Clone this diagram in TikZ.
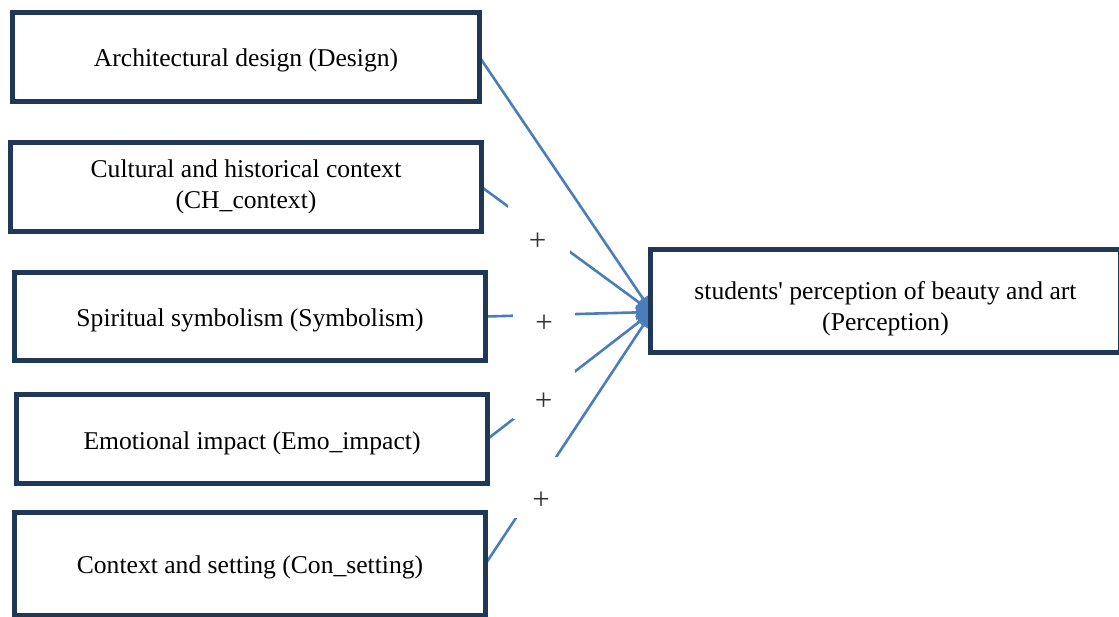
\documentclass[tikz,border=0pt]{standalone}
\usepackage{fontspec}
\setmainfont{Liberation Serif}
\usetikzlibrary{arrows.meta,calc,backgrounds}
\definecolor{boxline}{HTML}{1F3855}
\definecolor{connblue}{HTML}{4A7EBB}
\newcommand{\shiftdown}[2]{\raisebox{-#1}[\height][\depth]{#2}}
\tikzset{
  box/.style={draw=boxline, line width=5pt, fill=white, rectangle, outer sep=0pt,
    inner sep=0pt, align=center, font=\fontsize{25.6}{31}\selectfont},
  conn/.style={draw=connblue, line width=2.6pt, -{Triangle[length=16pt,width=14pt]}},
  gapbox/.style={fill=white, rectangle, minimum width=62pt, minimum height=61pt, inner sep=0pt},
  plus/.style={font=\fontsize{31}{31}\selectfont, inner sep=0pt, text=black!80}
}
\begin{document}
\begin{tikzpicture}[x=1pt,y=-1pt]
\useasboundingbox (0,0) rectangle (1119,617);
\node[box, minimum width=467pt, minimum height=89pt] (design) at (246,57) {\shiftdown{3pt}{Architectural design (Design)}};
\node[box, minimum width=471pt, minimum height=89pt] (ch) at (246,187) {\shiftdown{0pt}{\begin{tabular}{@{}c@{}}Cultural and historical context\\(CH\_context)\end{tabular}}};
\node[box, minimum width=471pt, minimum height=88pt] (sym) at (250,316.5) {\shiftdown{4pt}{Spiritual symbolism (Symbolism)}};
\node[box, minimum width=471pt, minimum height=89pt] (emo) at (252,439) {\shiftdown{4pt}{Emotional impact (Emo\_impact)}};
\node[box, minimum width=471pt, minimum height=103pt] (con) at (250,564) {\shiftdown{3pt}{Context and setting (Con\_setting)}};
\node[box, minimum width=470pt, minimum height=103pt] (perc) at (885.5,301) {\shiftdown{8pt}{\begin{tabular}{@{}c@{}}students\textquotesingle{} perception of beauty and art\\(Perception)\end{tabular}}};
\coordinate (tip) at ($(perc.west)+(1.5,11)$);
\begin{scope}[on background layer]
\draw[conn] (design.east) -- (tip);
\draw[conn] (ch.east) -- (tip);
\draw[conn] (sym.east) -- (tip);
\draw[conn] (emo.east) -- (tip);
\draw[conn] (con.east) -- (tip);
\end{scope}
\node[gapbox] (g1) at (538.5,228.5) {};
\node[gapbox] (g2) at (544,309.5) {};
\node[gapbox] (g3) at (544,388.5) {};
\node[gapbox] (g4) at (541,487.5) {};
\node[plus] (p1) at (537.5,242) {+};
\node[plus] (p2) at (544,323.5) {+};
\node[plus] (p3) at (543.5,402) {+};
\node[plus] (p4) at (541,501) {+};
\end{tikzpicture}
\end{document}
